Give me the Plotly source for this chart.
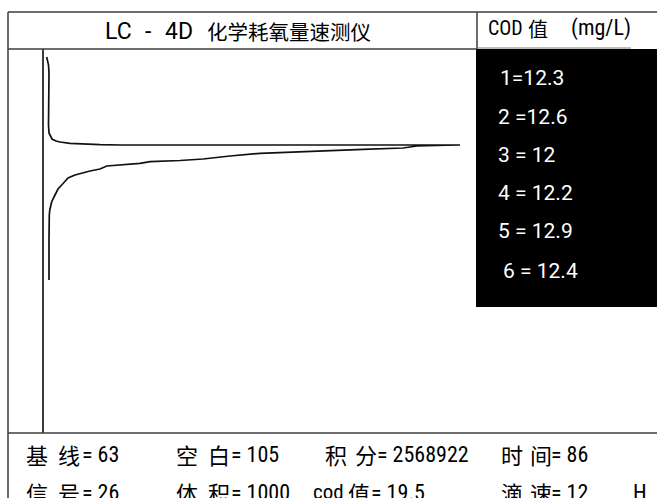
import plotly.graph_objects as go

W, H = 657, 498

# Titration trace: forward sweep (down, then across) and return sweep
t_forward = [2.7, 4.5, 5, 4.7, 4.3, 4.5, 5, 6.5, 8, 12, 16, 26, 36, 56, 76, 136, 256, 416]
s_forward = [376, 368, 360, 343, 326, 308, 300, 296, 294, 292, 291, 289.7, 289, 288.3, 288, 288, 288, 288]
t_return = [403, 373, 359, 319, 286, 256, 216, 186, 159, 136, 106, 96, 76, 62.7, 56, 46, 31, 24,
            19.3, 14, 11, 7.7, 5.8, 5.3, 5, 5]
s_return = [287.8, 287, 285, 283.7, 282.5, 280.7, 279.7, 277, 274, 272.5, 271.3, 269.7, 268, 267,
            264, 262, 258, 255, 249.7, 244, 238, 231.3, 223, 218, 193, 153]

# COD results panel
cod_labels = ["1=12.3", "2 =12.6", "3 = 12", "4 = 12.2", "5 = 12.9", "6 = 12.4"]

# Status fields
row1_names = [("基", "线"), ("空", "白"), ("积", "分"), ("时", "间")]
row1_values = ["63", "105", "2568922", "86"]
row2_names = [("信", "号"), ("体", "积"), ("cod", "值"), ("滴", "速")]
row2_values = ["26", "1000", "19.5", "12"]
row2_tail = "H"

TITLE_MODEL = ["LC", "-", "4D"]
TITLE_NAME = "化学耗氧量速测仪"
COD_HEADER = ["COD", "值", "(mg/L)"]

CJK = "Noto Sans CJK SC"
LAT = "Roboto, Noto Sans CJK SC"
LAT_NARROW = "Roboto Condensed, Roboto, Noto Sans CJK SC"
FRAME = "#3c3c3c"


def fx(x):
    return x / W


def fy(y):
    return 1 - y / H


fig = go.Figure()
fig.add_trace(go.Scatter(
    x=t_forward + t_return, y=s_forward + s_return, mode="lines",
    line=dict(color="#111111", width=1.7), hoverinfo="skip", showlegend=False,
))

shapes = []


def seg(x0, y0, x1, y1, color=FRAME, width=1.5):
    shapes.append(dict(type="line", xref="paper", yref="paper",
                       x0=fx(x0), y0=fy(y0), x1=fx(x1), y1=fy(y1),
                       line=dict(color=color, width=width)))


# results panel background
shapes.append(dict(type="rect", xref="paper", yref="paper", x0=fx(476), x1=fx(657),
                   y0=fy(307), y1=fy(49), fillcolor="black", line=dict(width=0), layer="below"))
seg(8, 12, 657, 12)
seg(8, 12, 8, 498)
seg(8, 49, 477, 49)
seg(477, 12, 477, 49)
seg(477, 48, 631, 48, color="#777777", width=1)
seg(8, 433, 657, 433)

ann = []


def text(x, y, s, size, family, color="black", anchor="left"):
    ann.append(dict(xref="paper", yref="paper", x=fx(x), y=fy(y), text=s, showarrow=False,
                    xanchor=anchor, yanchor="middle",
                    font=dict(family=family, size=size, color=color)))


# header: instrument model and name
for piece, x in zip(TITLE_MODEL, [103, 143, 163]):
    text(x, 31, piece, 23, LAT)
text(205, 31, TITLE_NAME, 20.5, CJK)

# header: results column
text(486, 28, COD_HEADER[0], 20, LAT_NARROW)
text(526, 28, COD_HEADER[1], 20, CJK)
text(569, 28, COD_HEADER[2], 22, LAT_NARROW)

cod_x = [498, 496, 496, 496, 496, 501]
cod_y = [78, 117, 155, 193, 231, 271]
for lbl, x, y in zip(cod_labels, cod_x, cod_y):
    text(x, y, lbl, 21, LAT, color="white")

# status rows
col_a = [24, 174, 323, 499]
col_b = [56, 206, 353, 528]
col_v = [80, 229, 375, 549]
for (a, b), v, xa, xb, xv in zip(row1_names, row1_values, col_a, col_b, col_v):
    text(xa, 454, a, 22, CJK)
    text(xb, 454, b, 22, CJK)
    text(xv, 454, "= " + v, 22, LAT_NARROW)

col_a2 = [24, 174, 311, 499]
col_b2 = [56, 206, 346, 528]
col_v2 = [80, 229, 369, 549]
for (a, b), v, xa, xb, xv in zip(row2_names, row2_values, col_a2, col_b2, col_v2):
    if a.isascii():
        text(xa, 492, a, 21, LAT_NARROW)
    else:
        text(xa, 492, a, 22, CJK)
    text(xb, 492, b, 22, CJK)
    text(xv, 492, "= " + v, 22, LAT_NARROW)
text(631, 492, row2_tail, 22, LAT_NARROW)

fig.update_layout(
    width=W, height=H, margin=dict(l=0, r=0, t=0, b=0),
    paper_bgcolor="white", plot_bgcolor="white",
    shapes=shapes, annotations=ann,
    xaxis=dict(domain=[fx(44), fx(478)], range=[0, 434], showgrid=False, zeroline=False,
               showticklabels=False, ticks="", showline=False, fixedrange=True),
    yaxis=dict(domain=[fy(433), fy(49)], range=[0, 384], showgrid=False, zeroline=False,
               showticklabels=False, ticks="", showline=True, linecolor=FRAME, linewidth=1.5,
               fixedrange=True),
)

fig.write_html("out.html")
